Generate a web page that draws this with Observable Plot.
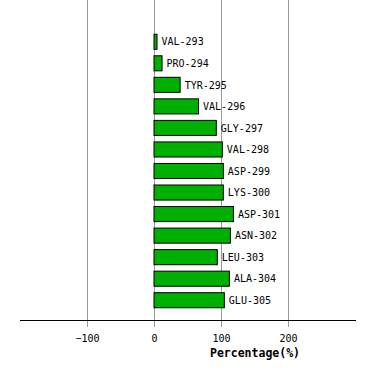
<!DOCTYPE html>
<html>
<head>
<meta charset="utf-8">
<script src="https://cdn.jsdelivr.net/npm/d3@7"></script>
<script src="https://cdn.jsdelivr.net/npm/@observablehq/plot@0.6"></script>
<style>
  html, body { margin: 0; padding: 0; background: #fff; }
  svg text { font-family: "DejaVu Sans Mono", monospace; }
</style>
</head>
<body>
<div id="chart"></div>
<script>
const residues = ["VAL-293","PRO-294","TYR-295","VAL-296","GLY-297","VAL-298","ASP-299","LYS-300","ASP-301","ASN-302","LEU-303","ALA-304","GLU-305"];
const percentages = [4.5, 12, 39, 66.5, 93, 102, 103.5, 103.5, 118.5, 114, 94.5, 112.5, 105];
const xTicks = [-100, 0, 100, 200];
const xLabel = "Percentage(%)";

const data = residues.map((r, i) => ({residue: r, value: percentages[i]}));

const chart = Plot.plot({
  width: 374,
  height: 380,
  marginLeft: 20,
  marginRight: 19,
  marginTop: 0,
  marginBottom: 60,
  style: {fontFamily: "DejaVu Sans Mono", fontSize: "10px", background: "#fff", color: "#000"},
  x: {domain: [-200, 300], ticks: xTicks},
  y: {domain: residues, range: [31, 311], paddingInner: 0.3, paddingOuter: 0.15, round: false, axis: null},
  marks: [
    Plot.gridX(xTicks, {stroke: "#999", strokeOpacity: 1}),
    Plot.axisX({ticks: xTicks, tickSize: 7, tickPadding: 7, stroke: "#999", fill: "#000", label: null, fontSize: 10}),
    Plot.frame({anchor: "bottom", stroke: "#000"}),
    Plot.barX(data, {x: "value", y: "residue", fill: "#00b000", stroke: "#000", strokeWidth: 1}),
    Plot.text(data, {x: "value", y: "residue", text: "residue", textAnchor: "start", dx: 4, fill: "#000", fontSize: 10}),
    Plot.text([xLabel], {text: d => d, frameAnchor: "bottom", dx: 67, dy: 36, fontWeight: "bold", fontSize: 11.5, fill: "#000"})
  ]
});
document.getElementById("chart").appendChild(chart);
</script>
</body>
</html>
